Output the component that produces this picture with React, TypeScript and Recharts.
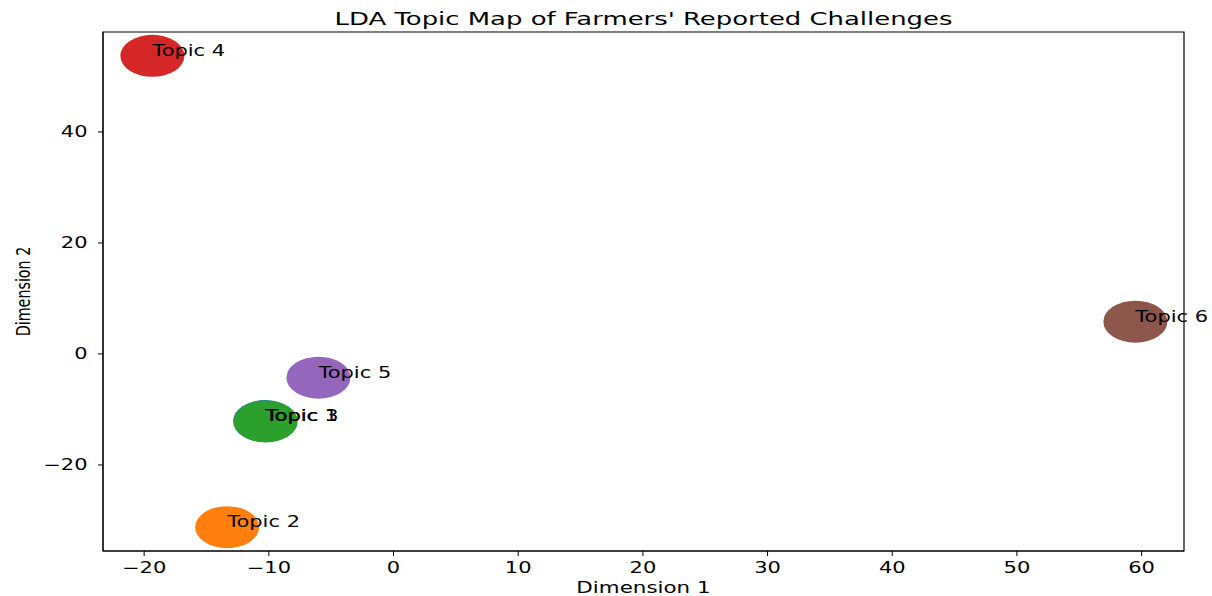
import { ReferenceArea, Scatter, ScatterChart, XAxis, YAxis } from "recharts";

const topicNames = ["Topic 1", "Topic 2", "Topic 3", "Topic 4", "Topic 5", "Topic 6"];
const dimension1 = [-10.3, -13.34, -10.25, -19.34, -6.02, 59.5];
const dimension2 = [-12.1, -31.2, -12.15, 53.7, -4.27, 5.82];
const topicColors = ["#1f77b4", "#ff7f0e", "#2ca02c", "#d62728", "#9467bd", "#8c564b"];

const xTicks = [-20, -10, 0, 10, 20, 30, 40, 50, 60];
const yTicks = [-20, 0, 20, 40];
const xDomain: [number, number] = [-23.3, 63.4];
const yDomain: [number, number] = [-35.5, 58];

const FONT = "'DejaVu Sans', sans-serif";
// the reference image is stretched horizontally, so text gets scaled on x
const SX = 1.4;

const points = topicNames.map((name, i) => ({
  name,
  x: dimension1[i],
  y: dimension2[i],
  color: topicColors[i],
}));

function fmt(v: number): string {
  return v < 0 ? `\u2212${Math.abs(v)}` : `${v}`;
}

function XTick({ x, y, payload }: any) {
  return (
    <g transform={`translate(${x},${y + 15}) scale(${SX},1)`}>
      <text textAnchor="middle" fontSize={15} fill="#000" fontFamily={FONT}>
        {fmt(payload.value)}
      </text>
    </g>
  );
}

function YTick({ x, y, payload }: any) {
  return (
    <g transform={`translate(${x - 8.5},${y + 5.5}) scale(${SX},1)`}>
      <text textAnchor="end" fontSize={15} fill="#000" fontFamily={FONT}>
        {fmt(payload.value)}
      </text>
    </g>
  );
}

function Blob(props: any) {
  const { cx, cy, payload } = props;
  return <ellipse cx={cx} cy={cy} rx={32} ry={21} fill={payload.color} />;
}

function TopicText(props: any) {
  const { cx, cy, payload } = props;
  return (
    <g transform={`translate(${cx},${cy}) scale(${SX},1)`}>
      <text fontSize={15} fill="#000" fontFamily={FONT}>
        {payload.name}
      </text>
    </g>
  );
}

function XTitle({ viewBox }: any) {
  const cx = viewBox.x + viewBox.width / 2;
  return (
    <g transform={`translate(${cx},${viewBox.y + 42}) scale(${SX},1)`}>
      <text textAnchor="middle" fontSize={15.3} fill="#000" fontFamily={FONT}>
        Dimension 1
      </text>
    </g>
  );
}

function YTitle({ viewBox }: any) {
  const cy = viewBox.y + viewBox.height / 2;
  return (
    <g transform={`translate(29.5,${cy}) scale(${SX},1) rotate(-90)`}>
      <text textAnchor="middle" fontSize={14.3} fill="#000" fontFamily={FONT}>
        Dimension 2
      </text>
    </g>
  );
}

export default function App() {
  return (
    <div style={{ position: "absolute", left: 0, top: 0, width: 1212, height: 596, background: "#fff" }}>
      <ScatterChart width={1212} height={596} margin={{ top: 32, right: 28, bottom: 0, left: 0 }}>
        <XAxis
          type="number"
          dataKey="x"
          domain={xDomain}
          ticks={xTicks}
          height={45}
          stroke="#000"
          tickSize={5}
          tick={<XTick />}
          label={<XTitle />}
        />
        <YAxis
          type="number"
          dataKey="y"
          domain={yDomain}
          ticks={yTicks}
          width={103}
          stroke="#000"
          tickSize={5}
          tick={<YTick />}
          label={<YTitle />}
        />
        <Scatter data={points} shape={<Blob />} isAnimationActive={false} />
        <Scatter data={points} shape={<TopicText />} isAnimationActive={false} />
        <ReferenceArea
          x1={xDomain[0]}
          x2={xDomain[1]}
          y1={yDomain[0]}
          y2={yDomain[1]}
          fill="none"
          stroke="#000"
          strokeWidth={1.2}
        />
      </ScatterChart>
      <svg width={1212} height={596} style={{ position: "absolute", left: 0, top: 0, pointerEvents: "none" }}>
        <g transform={`translate(643.5,25) scale(${SX},1)`}>
          <text textAnchor="middle" fontSize={18.5} fill="#000" fontFamily={FONT}>
            LDA Topic Map of Farmers' Reported Challenges
          </text>
        </g>
      </svg>
    </div>
  );
}
